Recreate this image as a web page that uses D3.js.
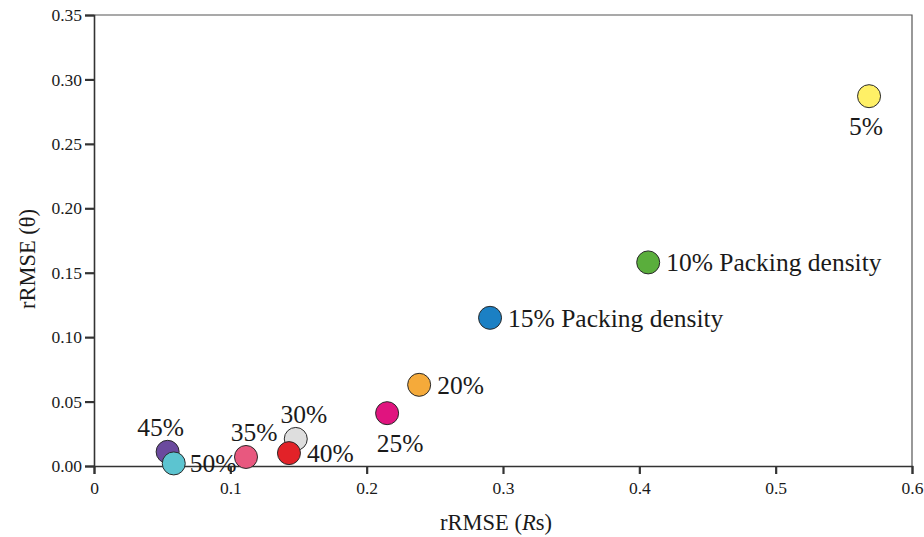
<!DOCTYPE html>
<meta charset="utf-8">
<script src="https://d3js.org/d3.v7.min.js"></script>
<style>
body { margin: 0; background: #fff; }
</style>
<div id="chart"></div>
<script>

// packing density labels and the two error measures
var labels  = ["5%", "10% Packing density", "15% Packing density", "20%", "25%", "30%", "35%", "40%", "45%", "50%"];
var rmseRs  = [0.5685, 0.4065, 0.2905, 0.2385, 0.215, 0.148, 0.1115, 0.143, 0.054, 0.0585];
var rmseTh  = [0.287, 0.158, 0.115, 0.063, 0.041, 0.021, 0.007, 0.010, 0.011, 0.002];
var colors  = ["#fff066", "#5aae3c", "#1b80c4", "#f5aa3a", "#e0147f", "#dedede", "#e8587f", "#e22228", "#6b4a9e", "#5cc4d0"];

var xTicks = [0, 0.1, 0.2, 0.3, 0.4, 0.5, 0.6];
var yTicks = [0, 0.05, 0.10, 0.15, 0.20, 0.25, 0.30, 0.35];

// where each label sits relative to its circle
var place = ["below", "right", "right", "right", "below", "above", "above", "right", "above", "right"];

var width = 924, height = 537;
var margin = {top: 15, right: 12, bottom: 71, left: 94};

var svg = d3.select("#chart").append("svg")
    .attr("width", width)
    .attr("height", height);

// serif everywhere, set on the element itself
function serif(sel, size) {
  sel.attr("font-family", "Liberation Serif")
    .attr("font-size", size)
    .attr("style", "font-family:'Liberation Serif';font-size:" + size + "px")
    .attr("fill", "#1a1a1a");
}

var x = d3.scaleLinear().domain([0, 0.6]).range([margin.left, width - margin.right]);
var y = d3.scaleLinear().domain([0, 0.35]).range([height - margin.bottom, margin.top]);

// frame top + right
svg.append("path")
    .attr("d", "M" + x(0) + "," + y(0.35) + "H" + x(0.6) + "V" + y(0))
    .attr("fill", "none")
    .attr("stroke", "#555")
    .attr("stroke-width", 1.2);

var xAxis = svg.append("g")
    .attr("transform", "translate(0," + y(0) + ")")
    .call(d3.axisBottom(x).tickValues(xTicks).tickSize(8).tickPadding(8)
      .tickFormat(function(d) { return d === 0 ? "0" : d3.format(".1f")(d); }));

var yAxis = svg.append("g")
    .attr("transform", "translate(" + x(0) + ",0)")
    .call(d3.axisLeft(y).tickValues(yTicks).tickSize(9).tickPadding(3)
      .tickFormat(d3.format(".2f")));

[xAxis, yAxis].forEach(function(a) {
  a.attr("font-family", "Liberation Serif").attr("font-size", 17);
  a.select(".domain").attr("stroke", "#333").attr("stroke-width", 1.6);
  a.selectAll(".tick line").attr("stroke", "#333").attr("stroke-width", 2.2);
  a.selectAll(".tick text").call(serif, 17.5);
});

// axis titles
var xt = svg.append("text")
    .attr("x", 496)
    .attr("y", 530)
    .attr("text-anchor", "middle")
    .call(serif, 22.5);
xt.append("tspan").text("rRMSE (");
xt.append("tspan").attr("font-style", "italic").text("R");
xt.append("tspan").text("s)");

svg.append("text")
    .attr("transform", "translate(35,259) rotate(-90)")
    .attr("text-anchor", "middle")
    .call(serif, 22.5)
    .text("rRMSE (\u03b8)");

// points
var pts = labels.map(function(l, i) {
  return {label: l, xv: rmseRs[i], yv: rmseTh[i], color: colors[i], place: place[i]};
});

svg.selectAll("circle.pt")
  .data(pts)
  .enter().append("circle")
    .attr("class", "pt")
    .attr("cx", function(d) { return x(d.xv); })
    .attr("cy", function(d) { return y(d.yv); })
    .attr("r", 11.5)
    .attr("fill", function(d) { return d.color; })
    .attr("stroke", "#2a2a2a")
    .attr("stroke-width", 1);

svg.selectAll("text.lbl")
  .data(pts)
  .enter().append("text")
    .attr("class", "lbl")
    .call(serif, 25.5)
    .attr("text-anchor", function(d) { return d.place === "right" ? "start" : "middle"; })
    .attr("x", function(d) {
      var cx = x(d.xv);
      if (d.place === "right") return cx + (d.label === "50%" ? 16 : 18);
      if (d.place === "above") return cx + (d.label === "45%" ? -7 : 8);
      return cx + (d.label === "25%" ? 13 : -3);
    })
    .attr("y", function(d) {
      var cy = y(d.yv);
      if (d.place === "right") return cy + 9;
      if (d.place === "above") return cy - 16;
      return cy + 39;
    })
    .text(function(d) { return d.label; });

</script>
